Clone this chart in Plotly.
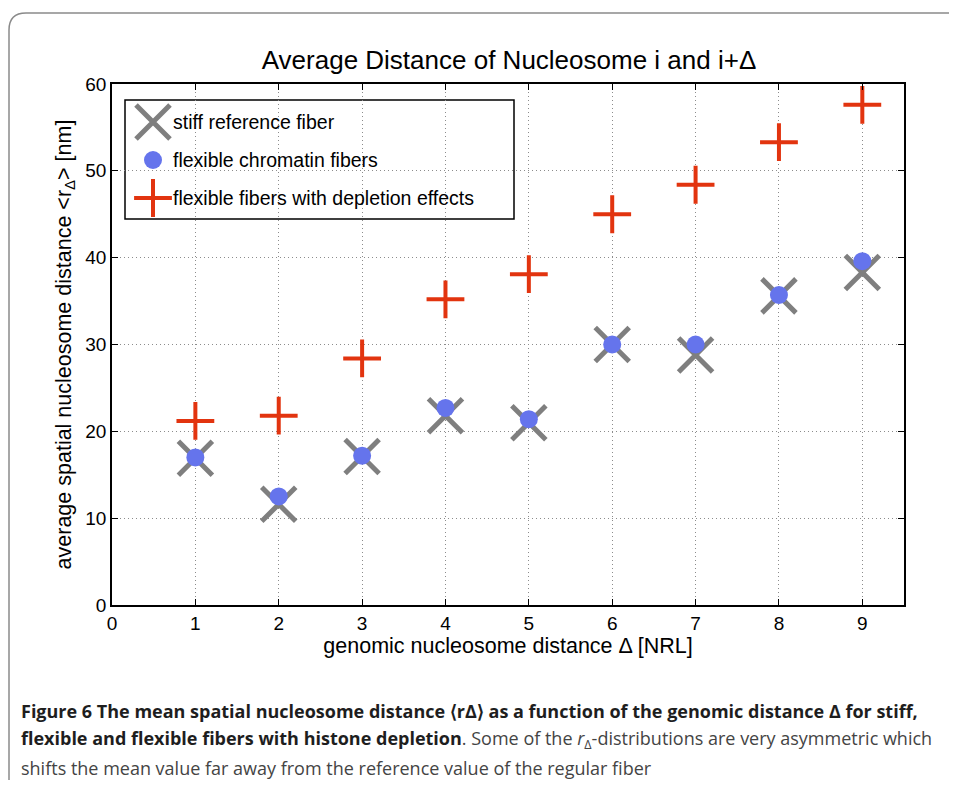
import plotly.graph_objects as go

# ---- data ----
genomic_distance = [1, 2, 3, 4, 5, 6, 7, 8, 9]
stiff_reference = [16.9, 11.6, 17.1, 21.8, 21.0, 30.0, 28.8, 35.6, 38.3]
flexible_fibers = [17.0, 12.5, 17.2, 22.7, 21.4, 30.0, 30.0, 35.7, 39.6]
depletion_fibers = [21.2, 21.8, 28.4, 35.2, 38.1, 45.0, 48.4, 53.3, 57.6]
series_names = ["stiff reference fiber", "flexible chromatin fibers",
                "flexible fibers with depletion effects"]
x_ticks = [0, 1, 2, 3, 4, 5, 6, 7, 8, 9]
y_ticks = [0, 10, 20, 30, 40, 50, 60]

# page is rendered with an 8px body margin
OFF = 8
PAGE_W, PAGE_H = 957, 793
W, H = PAGE_W - OFF, PAGE_H - OFF
# plot area in page pixels
L, R, T, B = 112, 904, 84, 605


def px(x):
    return (x - L) / (R - L)


def py(y):
    return (B - y) / (B - T)


GRAY = "#7f7f7f"
BLUE = "#6574ec"
RED = "#e2340f"
FONT = "Liberation Sans, Arial, Helvetica, sans-serif"

fig = go.Figure()
fig.add_trace(go.Scatter(x=genomic_distance, y=stiff_reference, mode="markers",
                         name=series_names[0],
                         marker=dict(symbol="x-thin", size=34, color=GRAY,
                                     line=dict(color=GRAY, width=5))))
fig.add_trace(go.Scatter(x=genomic_distance, y=flexible_fibers, mode="markers",
                         name=series_names[1],
                         marker=dict(symbol="circle", size=18, color=BLUE,
                                     line=dict(width=0))))
fig.add_trace(go.Scatter(x=genomic_distance, y=depletion_fibers, mode="markers",
                         name=series_names[2],
                         marker=dict(symbol="cross-thin", size=27, color=RED,
                                     line=dict(color=RED, width=4))))

# ---- custom legend (page-pixel overlay axes) ----
leg_y = [122, 160, 198]
leg_x = [153, 153, 153]
fig.add_trace(go.Scatter(x=[leg_x[0]], y=[leg_y[0]], xaxis="x2", yaxis="y2", mode="markers",
                         showlegend=False, hoverinfo="skip",
                         marker=dict(symbol="x-thin", size=34, color=GRAY,
                                     line=dict(color=GRAY, width=5))))
fig.add_trace(go.Scatter(x=[leg_x[1]], y=[leg_y[1]], xaxis="x2", yaxis="y2", mode="markers",
                         showlegend=False, hoverinfo="skip",
                         marker=dict(symbol="circle", size=18, color=BLUE, line=dict(width=0))))
fig.add_trace(go.Scatter(x=[leg_x[2]], y=[leg_y[2]], xaxis="x2", yaxis="y2", mode="markers",
                         showlegend=False, hoverinfo="skip",
                         marker=dict(symbol="cross-thin", size=27, color=RED,
                                     line=dict(color=RED, width=4))))

shapes = [
    dict(type="rect", xref="paper", yref="paper", x0=px(125), x1=px(514), y0=py(219), y1=py(100),
         line=dict(color="black", width=1.5), fillcolor="white", layer="below"),
    # outer figure frame
    dict(type="path", xref="paper", yref="paper",
         path=f"M {px(9)},{py(780)} L {px(9)},{py(30)} Q {px(9)},{py(13)} {px(26)},{py(13)} L {px(965)},{py(13)}",
         line=dict(color="#8a8a8a", width=1.5)),
]

annotations = []
for name, yy in zip(series_names, leg_y):
    annotations.append(dict(text=name, xref="paper", yref="paper", x=px(171), y=py(yy),
                            xanchor="left", yanchor="middle", showarrow=False,
                            font=dict(family=FONT, size=19.5, color="black")))

CAP = "Open Sans, Noto Sans, sans-serif"
cap_lines = [
    "<b>Figure 6 The mean spatial nucleosome distance ⟨rΔ⟩ as a function of the genomic distance Δ for stiff,</b>",
    "<b>flexible and flexible fibers with histone depletion</b><span style='color:#444'>. Some of the <i>r</i><sub>Δ</sub>-distributions are very asymmetric which</span>",
    "<span style='color:#444'>shifts the mean value far away from the reference value of the regular fiber</span>",
]
for line, yy in zip(cap_lines, [711, 740, 768]):
    annotations.append(dict(text=line, xref="paper", yref="paper", x=px(19), y=py(yy),
                            xanchor="left", yanchor="middle", showarrow=False,
                            font=dict(family=CAP, size=18.0, color="#1e1e1e")))

axis_common = dict(showline=True, linecolor="black", linewidth=1.5, mirror="ticks",
                   ticks="inside", ticklen=6, tickwidth=1, tickcolor="black",
                   showgrid=True, gridcolor="#8c8c8c", griddash="1px,3px", gridwidth=1,
                   zeroline=False, tickfont=dict(family=FONT, size=19, color="black"))

fig.update_layout(
    width=W, height=H,
    margin=dict(l=L - OFF, r=W - (R - OFF), t=T - OFF, b=H - (B - OFF)),
    paper_bgcolor="white", plot_bgcolor="white",
    showlegend=False,
    title=dict(text="Average Distance of Nucleosome i and i+Δ", xref="paper", x=px(509),
               xanchor="center", y=1 - (60 - OFF) / H, yanchor="middle",
               font=dict(family=FONT, size=26, color="black")),
    xaxis=dict(range=[0, 9.5], tickvals=x_ticks, ticktext=[str(v) for v in x_ticks],
               title=dict(text="genomic nucleosome distance Δ [NRL]",
                          font=dict(family=FONT, size=21.5, color="black"), standoff=2),
               **axis_common),
    yaxis=dict(range=[0, 60], tickvals=y_ticks, ticktext=[str(v) for v in y_ticks],
               title=dict(text="average spatial nucleosome distance &lt;r<sub>Δ</sub>&gt; [nm]",
                          font=dict(family=FONT, size=21.5, color="black"), standoff=8),
               **axis_common),
    xaxis2=dict(range=[L, R], overlaying="x", visible=False, fixedrange=True),
    yaxis2=dict(range=[B, T], overlaying="y", visible=False, fixedrange=True),
    shapes=shapes,
    annotations=annotations,
)

fig.write_html("out.html")
